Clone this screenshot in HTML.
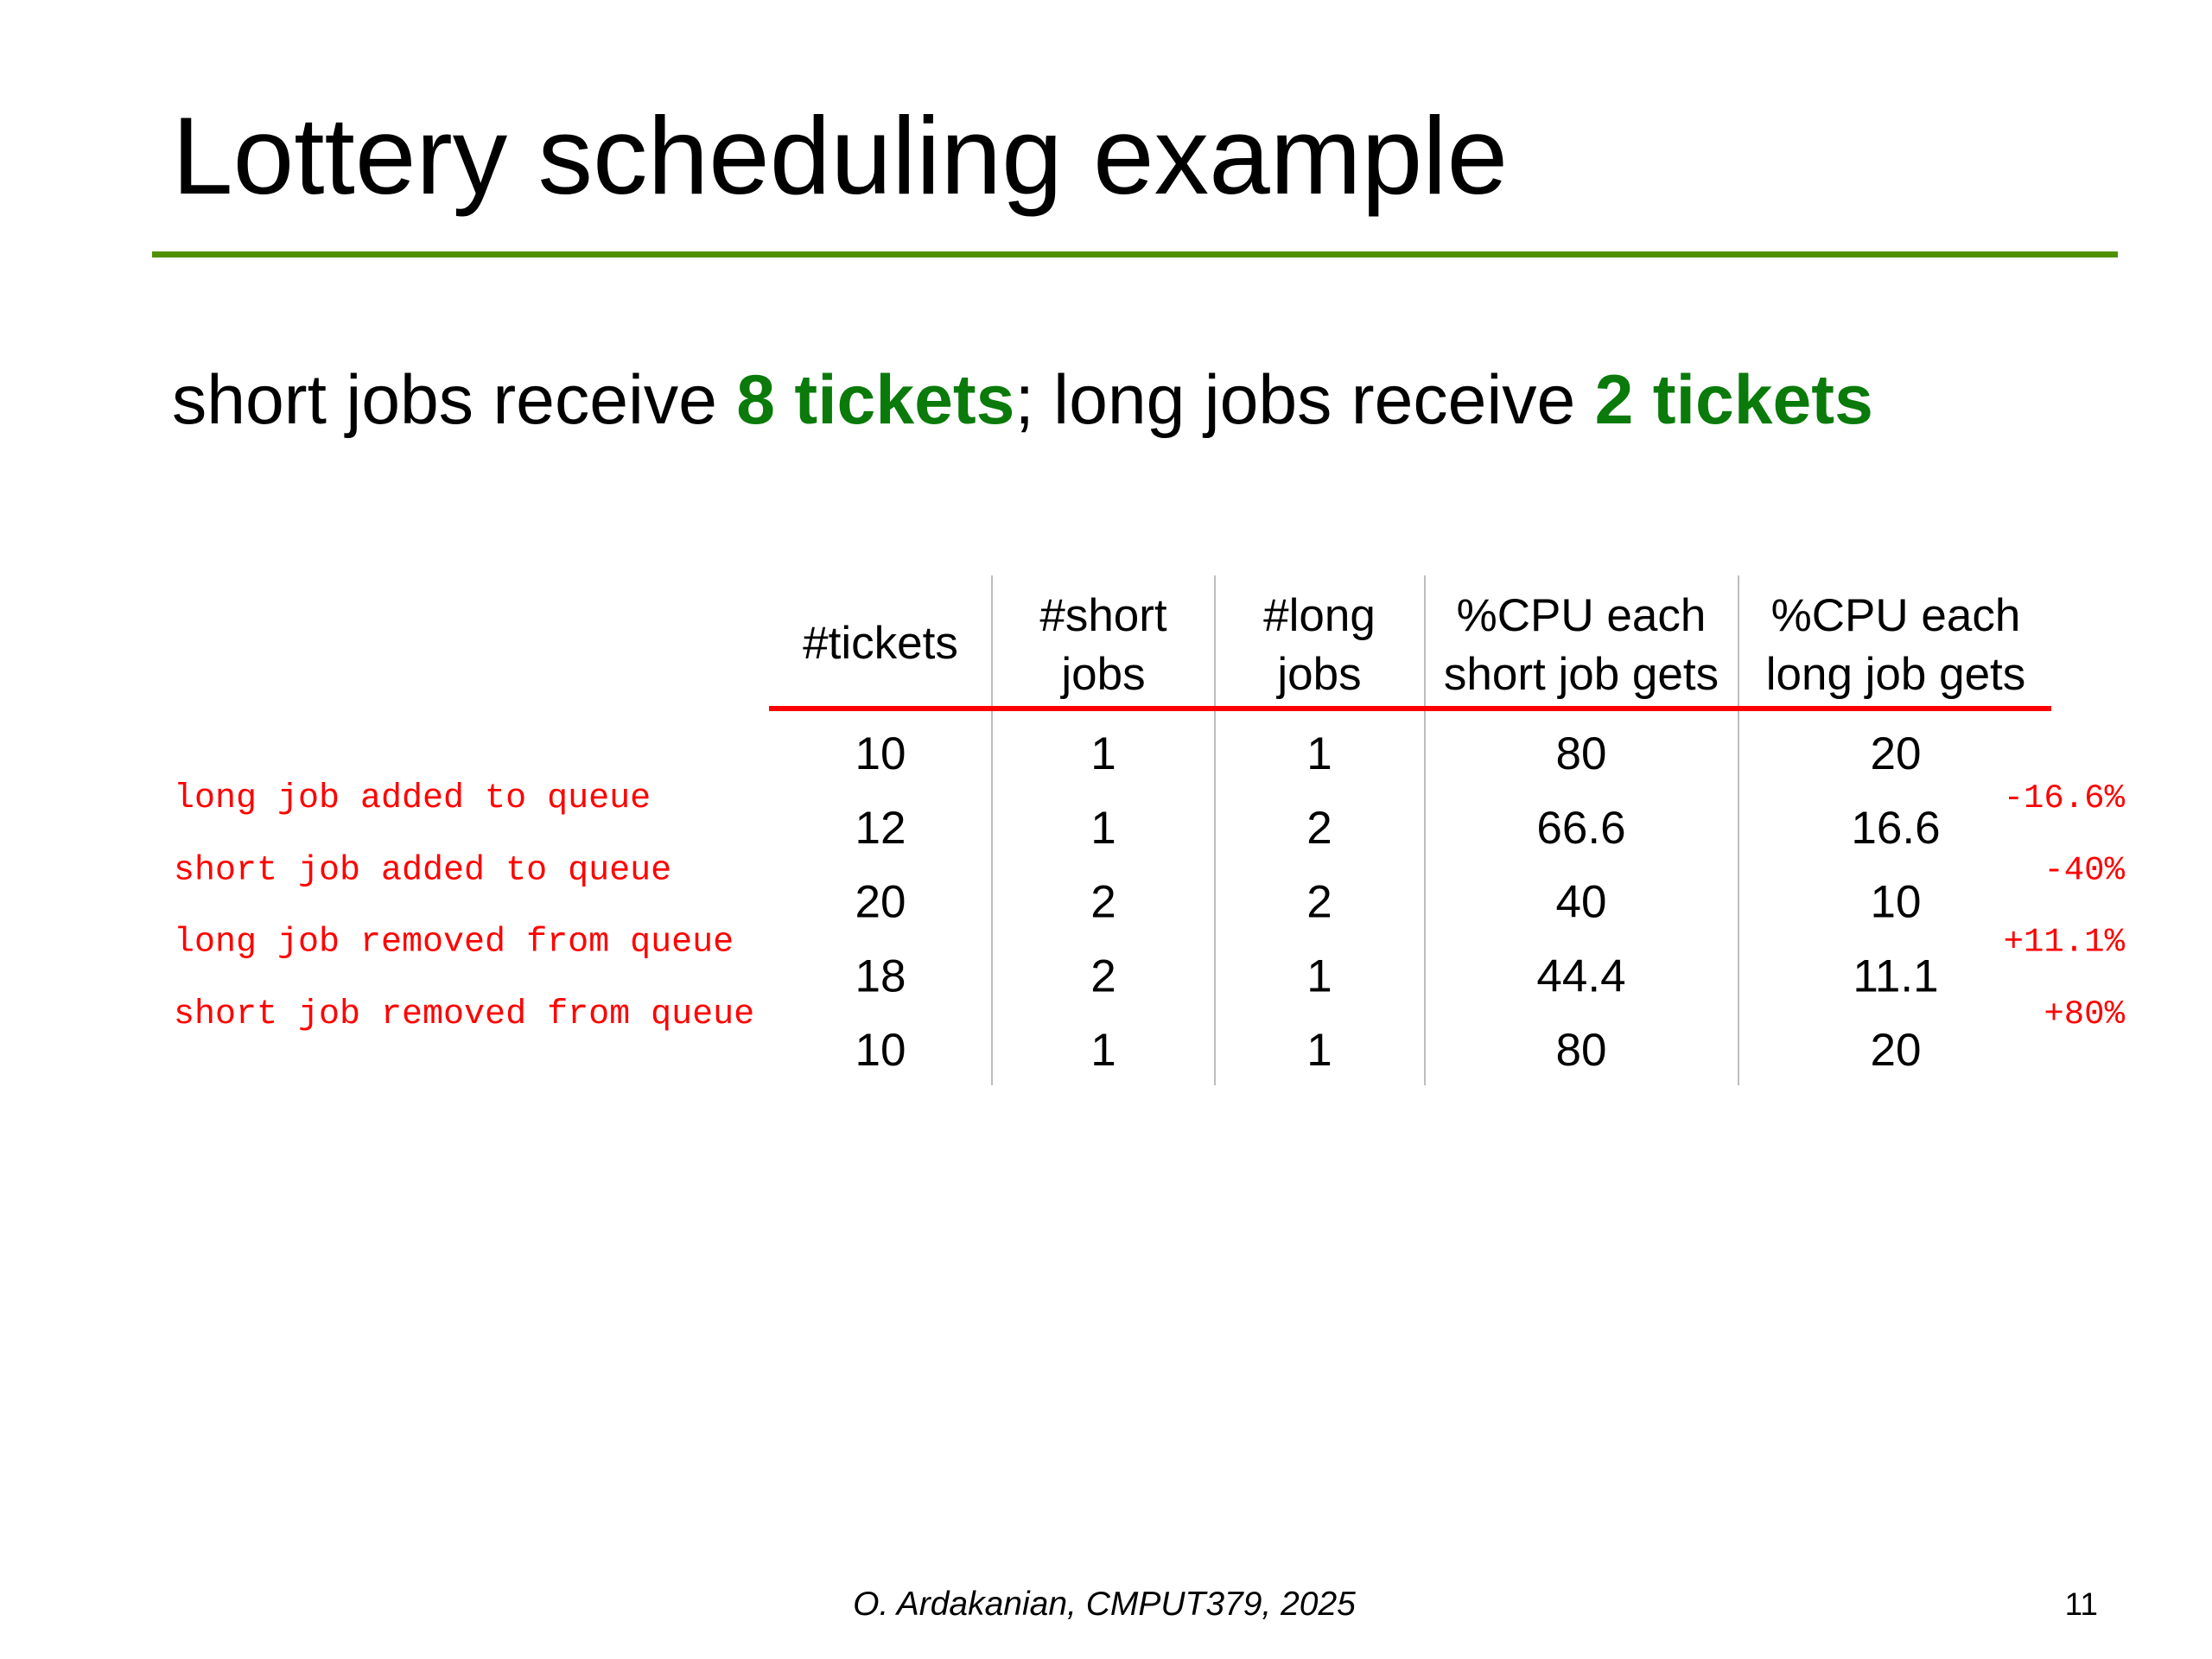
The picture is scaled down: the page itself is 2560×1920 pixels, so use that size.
<!DOCTYPE html>
<html><head><meta charset="utf-8"><style>
html,body{margin:0;padding:0;background:#fff;}
svg{display:block;}
</style></head><body>
<svg width="2560" height="1920" viewBox="0 0 2560 1920" xmlns="http://www.w3.org/2000/svg" font-family="'Liberation Sans', sans-serif">
  <text x="199" y="224" font-size="127" fill="#000">Lottery scheduling example</text>
  <rect x="176" y="291" width="2275" height="7" fill="#4f9100"/>
  <text x="199" y="490" font-size="80.5" fill="#000">short jobs receive <tspan fill="#0a7a0a" font-weight="bold">8 tickets</tspan>; long jobs receive <tspan fill="#0a7a0a" font-weight="bold">2 tickets</tspan></text>

  <g id="table"></g>

  <text x="1278" y="1869" font-size="39" font-style="italic" text-anchor="middle" fill="#000">O. Ardakanian, CMPUT379, 2025</text>
  <text x="2428" y="1869" font-size="37" text-anchor="end" fill="#000">11</text>
</svg>
<script>
const headers1 = ["", "#short", "#long", "%CPU each", "%CPU each"];
const headers2 = ["", "jobs", "jobs", "short job gets", "long job gets"];
const colTickets = ["10", "12", "20", "18", "10"];
const colShort = ["1", "1", "2", "2", "1"];
const colLong = ["1", "2", "2", "1", "1"];
const colCpuShort = ["80", "66.6", "40", "44.4", "80"];
const colCpuLong = ["20", "16.6", "10", "11.1", "20"];
const leftNotes = ["long job added to queue", "short job added to queue", "long job removed from queue", "short job removed from queue"];
const rightNotes = ["-16.6%", "-40%", "+11.1%", "+80%"];

const NS = "http://www.w3.org/2000/svg";
const g = document.getElementById("table");
const colX = [1019, 1277, 1527, 1830, 2194];
const rowY = i => 890 + i * 85.75;
const noteY = i => 934 + i * 83.3;
function txt(x, y, s, size, attrs) {
  const t = document.createElementNS(NS, "text");
  t.setAttribute("x", x); t.setAttribute("y", y);
  t.setAttribute("font-size", size);
  for (const k in attrs) t.setAttribute(k, attrs[k]);
  t.textContent = s;
  g.appendChild(t);
  return t;
}
[1148, 1406, 1649, 2012].forEach(x => {
  const l = document.createElementNS(NS, "rect");
  l.setAttribute("x", x - 1); l.setAttribute("y", 666);
  l.setAttribute("width", 2); l.setAttribute("height", 590);
  l.setAttribute("fill", "#bdbdbd");
  
  
  g.appendChild(l);
});
const red = document.createElementNS(NS, "rect");
red.setAttribute("x", 890); red.setAttribute("y", 817);
red.setAttribute("width", 1484); red.setAttribute("height", 6);
red.setAttribute("fill", "#ff0000");


g.appendChild(red);

let h = txt(colX[0], 762, "#tickets", 53, {"text-anchor": "middle"});


for (let c = 1; c < 5; c++) {
  let a = txt(colX[c], 730, headers1[c], 53, {"text-anchor": "middle"});
  
  
  let b = txt(colX[c], 798, headers2[c], 53, {"text-anchor": "middle"});
  
  
}
const cols = [colTickets, colShort, colLong, colCpuShort, colCpuLong];
cols.forEach((col, c) => col.forEach((v, i) => {
  const t = txt(colX[c], rowY(i), v, 53, {"text-anchor": "middle"});
  
  
}));
leftNotes.forEach((s, i) => {
  const t = txt(201, noteY(i), s, 40, {"fill": "#ff0000", "font-family": "'Liberation Mono', monospace"});
  
  
});
rightNotes.forEach((s, i) => {
  const t = txt(2459, noteY(i), s, 39, {"fill": "#ff0000", "text-anchor": "end", "font-family": "'Liberation Mono', monospace"});
  
  
});
</script>
</body></html>
